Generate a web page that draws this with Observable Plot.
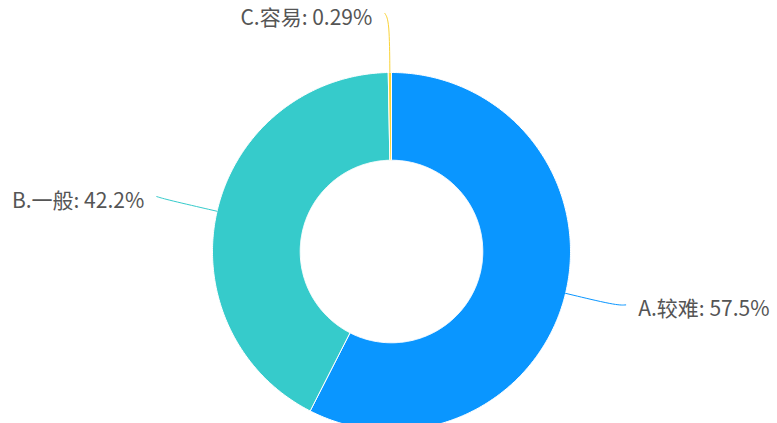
<!DOCTYPE html>
<html><head><meta charset="utf-8">
<script src="https://cdn.jsdelivr.net/npm/d3@7"></script>
<script src="https://cdn.jsdelivr.net/npm/@observablehq/plot@0.6"></script>
<style>body{margin:0;background:#fff;overflow:hidden;}</style>
</head><body><div id="chart"></div>
<script>
// Data
const categories = ["A.较难", "B.一般", "C.容易"];
const percents = [57.5, 42.2, 0.29];
const percentLabels = ["57.5%", "42.2%", "0.29%"];
const colors = ["#0A96FF", "#36CBCB", "#FAD337"];

// Layout
const W = 777, H = 423, CX = 391, CY = 251, R = 179;
const INNER = 0.51, LINE_END = 1.32;

const arcs = d3.pie().sort(null).value(d => d)(percents);

// slice polygons in unit-radius coordinates (y up)
const polys = [];
arcs.forEach((a, i) => {
  const n = Math.max(2, Math.ceil((a.endAngle - a.startAngle) / 0.01));
  const pts = [];
  for (let k = 0; k <= n; k++) {
    const t = a.startAngle + (a.endAngle - a.startAngle) * k / n;
    pts.push({cat: categories[i], x: Math.sin(t), y: Math.cos(t)});
  }
  for (let k = n; k >= 0; k--) {
    const t = a.startAngle + (a.endAngle - a.startAngle) * k / n;
    pts.push({cat: categories[i], x: INNER * Math.sin(t), y: INNER * Math.cos(t)});
  }
  pts.push({...pts[0]});
  polys.push(...pts);
});

// leader lines and labels
const leaders = [];
const labels = [];
arcs.forEach((a, i) => {
  const m = (a.startAngle + a.endAngle) / 2;
  const s = Math.sin(m), c = Math.cos(m);
  const side = s >= 0 ? 1 : -1;
  leaders.push({cat: categories[i], x: s * 1.0, y: c * 1.0});
  leaders.push({cat: categories[i], x: s * (LINE_END - 0.03), y: c * (LINE_END - 0.03)});
  leaders.push({cat: categories[i], x: s * LINE_END + side * 0.025, y: c * LINE_END + 0.01});
  labels.push({cat: categories[i], side, x: s * LINE_END, y: c * LINE_END, text: `${categories[i]}: ${percentLabels[i]}`});
});

const font = "'Noto Sans CJK SC', 'Noto Sans', sans-serif";

const chart = Plot.plot({
  width: W, height: H,
  margin: 0,
  style: {background: "white", fontFamily: font},
  x: {domain: [-CX / R, (W - CX) / R], range: [0, W], axis: null},
  y: {domain: [-(H - CY) / R, CY / R], range: [H, 0], axis: null},
  color: {domain: categories, range: colors},
  marks: [
    Plot.line(polys, {x: "x", y: "y", z: "cat", fill: "cat", stroke: "white", strokeWidth: 1, curve: "linear"}),
    Plot.line(leaders, {x: "x", y: "y", z: "cat", stroke: "cat", strokeWidth: 1, curve: "basis"}),
    Plot.text(labels.filter(d => d.side > 0), {x: "x", y: "y", text: "text", textAnchor: "start", dx: 17, dy: 3, fontSize: 21, fill: "#555555"}),
    Plot.text(labels.filter(d => d.side < 0), {x: "x", y: "y", text: "text", textAnchor: "end", dx: -17, dy: 3, fontSize: 21, fill: "#555555"})
  ]
});
document.getElementById("chart").appendChild(chart);
</script>
</body></html>
